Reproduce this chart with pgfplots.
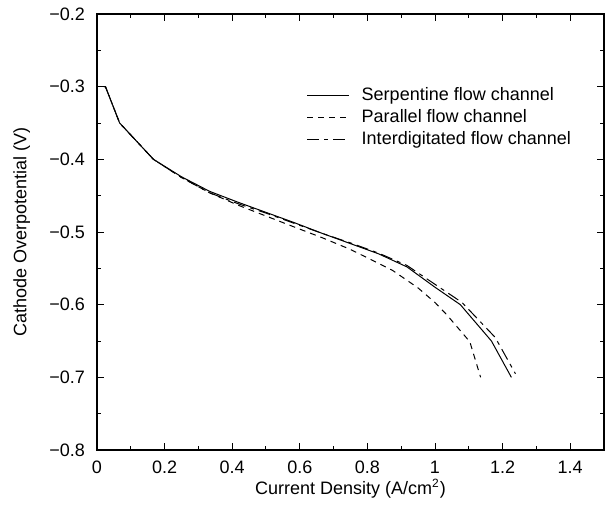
\documentclass[border=0pt]{standalone}
\usepackage{fontspec}
\setmainfont{Liberation Sans}
\usepackage{pgfplots}
\pgfplotsset{compat=1.18}

\begin{document}
\begin{tikzpicture}[font=\fontsize{9pt}{10.8pt}\selectfont]
\path[use as bounding box] (-48.5pt,-27.5pt) rectangle (256.5pt,225pt);
\begin{axis}[
    at={(0,0)}, anchor=south west,
    scale only axis,
    width=253.5pt, height=218pt,
    xmin=0, xmax=1.5,
    ymin=-0.8, ymax=-0.2,
    xtick={0,0.2,0.4,0.6,0.8,1,1.2,1.4},
    xticklabels={0,0.2,0.4,0.6,0.8,1,1.2,1.4},
    ytick={-0.8,-0.7,-0.6,-0.5,-0.4,-0.3,-0.2},
    yticklabels={−0.8,−0.7,−0.6,−0.5,−0.4,−0.3,−0.2},
    minor x tick num=1, minor y tick num=1,
    tick align=inside,
    major tick length=3.5pt, minor tick length=2pt,
    tick style={black, line width=0.5pt},
    axis line style={black, line width=0.6pt},
    tick label style={font=\fontsize{9pt}{10.8pt}\selectfont},
    y tick label style={xshift=-2.5pt},
    x tick label style={yshift=-2pt},
    xlabel={Current Density (A/cm\textsuperscript{2})},
    ylabel={Cathode Overpotential (V)},
    xlabel style={at={(axis description cs:0.5,-0.05)}, anchor=north},
    ylabel style={at={(axis description cs:-0.118,0.5)}, anchor=south},
    legend style={draw=none, fill=none, at={(rel axis cs:0.405,0.85)}, anchor=north west,
        font=\fontsize{9pt}{10.8pt}\selectfont, row sep=-1.2pt, inner sep=2pt},
    legend cell align=left,
    legend image code/.code={\draw[#1] (0pt,0pt) -- (21pt,0pt); \path (25pt,0pt);},
]
\addplot[black, line width=0.5pt] coordinates {
    (0.02,-0.3) (0.025,-0.3) (0.067,-0.35) (0.167,-0.4) (0.25,-0.424) (0.333,-0.444)
    (0.417,-0.459) (0.5,-0.473) (0.583,-0.487)
    (0.667,-0.502) (0.75,-0.516) (0.833,-0.53) (0.917,-0.548) (1.0,-0.576) (1.075,-0.6)
    (1.167,-0.65) (1.226,-0.7)
};
\addlegendentry{Serpentine flow channel}
\addplot[black, line width=0.5pt, dash pattern=on 3pt off 2.5pt] coordinates {
    (0.02,-0.3) (0.025,-0.3) (0.067,-0.35) (0.167,-0.4) (0.25,-0.425) (0.333,-0.446)
    (0.417,-0.463) (0.5,-0.478) (0.583,-0.493)
    (0.667,-0.508) (0.75,-0.524) (0.875,-0.553) (0.95,-0.577) (1.0,-0.597) (1.035,-0.614)
    (1.103,-0.651) (1.135,-0.7)
};
\addlegendentry{Parallel flow channel}
\addplot[black, line width=0.5pt, dash pattern=on 6pt off 2.5pt on 2pt off 2.5pt] coordinates {
    (0.02,-0.3) (0.025,-0.3) (0.067,-0.35) (0.167,-0.4) (0.25,-0.425) (0.333,-0.446)
    (0.417,-0.461) (0.5,-0.474) (0.583,-0.488)
    (0.667,-0.502) (0.75,-0.515) (0.833,-0.529) (0.917,-0.546) (1.0,-0.572) (1.08,-0.597)
    (1.178,-0.645) (1.238,-0.695)
};
\addlegendentry{Interdigitated flow channel}
\end{axis}
\end{tikzpicture}
\end{document}
